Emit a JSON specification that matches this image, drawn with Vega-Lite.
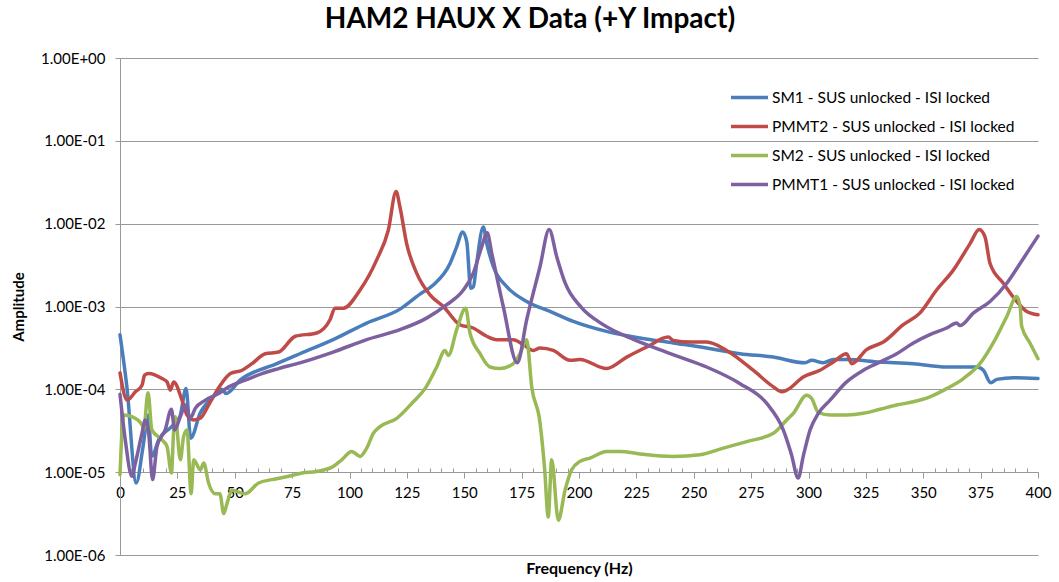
{
  "$schema": "https://vega.github.io/schema/vega-lite/v6.json",
  "autosize": {"type": "none"},
  "padding": {"left": 120, "top": 58, "right": 21, "bottom": 27},
  "width": 918,
  "height": 497,
  "background": "white",
  "title": {"text": "HAM2 HAUX X Data (+Y Impact)", "font": "Lato", "fontSize": 28, "fontWeight": "bold", "color": "#000", "anchor": "middle", "dx": -49, "offset": 17},
  "data": {"values": [
    {"s":"SM1 - SUS unlocked - ISI locked","f":0,"a":4.57e-4},
    {"s":"SM1 - SUS unlocked - ISI locked","f":3,"a":1.07e-4},
    {"s":"SM1 - SUS unlocked - ISI locked","f":7.1,"a":7.41e-6},
    {"s":"SM1 - SUS unlocked - ISI locked","f":10,"a":2.0e-5},
    {"s":"SM1 - SUS unlocked - ISI locked","f":12.3,"a":4.9e-5},
    {"s":"SM1 - SUS unlocked - ISI locked","f":13.8,"a":1.55e-5},
    {"s":"SM1 - SUS unlocked - ISI locked","f":17,"a":2.51e-5},
    {"s":"SM1 - SUS unlocked - ISI locked","f":22.5,"a":3.55e-5},
    {"s":"SM1 - SUS unlocked - ISI locked","f":26.1,"a":4.68e-5},
    {"s":"SM1 - SUS unlocked - ISI locked","f":28.8,"a":1.02e-4},
    {"s":"SM1 - SUS unlocked - ISI locked","f":30.8,"a":2.57e-5},
    {"s":"SM1 - SUS unlocked - ISI locked","f":34.9,"a":5.13e-5},
    {"s":"SM1 - SUS unlocked - ISI locked","f":40.7,"a":8.13e-5},
    {"s":"SM1 - SUS unlocked - ISI locked","f":44.3,"a":1.0e-4},
    {"s":"SM1 - SUS unlocked - ISI locked","f":46.2,"a":8.91e-5},
    {"s":"SM1 - SUS unlocked - ISI locked","f":52.3,"a":1.29e-4},
    {"s":"SM1 - SUS unlocked - ISI locked","f":68.3,"a":2.04e-4},
    {"s":"SM1 - SUS unlocked - ISI locked","f":78.4,"a":2.69e-4},
    {"s":"SM1 - SUS unlocked - ISI locked","f":92.9,"a":3.98e-4},
    {"s":"SM1 - SUS unlocked - ISI locked","f":107.5,"a":6.31e-4},
    {"s":"SM1 - SUS unlocked - ISI locked","f":122,"a":9.3e-4},
    {"s":"SM1 - SUS unlocked - ISI locked","f":130.7,"a":1.41e-3},
    {"s":"SM1 - SUS unlocked - ISI locked","f":136.5,"a":1.82e-3},
    {"s":"SM1 - SUS unlocked - ISI locked","f":143.8,"a":3.31e-3},
    {"s":"SM1 - SUS unlocked - ISI locked","f":146.7,"a":5.25e-3},
    {"s":"SM1 - SUS unlocked - ISI locked","f":149.3,"a":7.94e-3},
    {"s":"SM1 - SUS unlocked - ISI locked","f":151.1,"a":6.03e-3},
    {"s":"SM1 - SUS unlocked - ISI locked","f":152.8,"a":1.66e-3},
    {"s":"SM1 - SUS unlocked - ISI locked","f":154,"a":1.74e-3},
    {"s":"SM1 - SUS unlocked - ISI locked","f":155.4,"a":3.31e-3},
    {"s":"SM1 - SUS unlocked - ISI locked","f":158.3,"a":9.12e-3},
    {"s":"SM1 - SUS unlocked - ISI locked","f":159.8,"a":5.75e-3},
    {"s":"SM1 - SUS unlocked - ISI locked","f":162.7,"a":3.02e-3},
    {"s":"SM1 - SUS unlocked - ISI locked","f":168.5,"a":1.74e-3},
    {"s":"SM1 - SUS unlocked - ISI locked","f":177.2,"a":1.15e-3},
    {"s":"SM1 - SUS unlocked - ISI locked","f":187.4,"a":8.71e-4},
    {"s":"SM1 - SUS unlocked - ISI locked","f":197.5,"a":6.61e-4},
    {"s":"SM1 - SUS unlocked - ISI locked","f":212,"a":5.01e-4},
    {"s":"SM1 - SUS unlocked - ISI locked","f":226.6,"a":4.17e-4},
    {"s":"SM1 - SUS unlocked - ISI locked","f":241.1,"a":3.63e-4},
    {"s":"SM1 - SUS unlocked - ISI locked","f":255.6,"a":3.16e-4},
    {"s":"SM1 - SUS unlocked - ISI locked","f":270.2,"a":2.69e-4},
    {"s":"SM1 - SUS unlocked - ISI locked","f":284.7,"a":2.45e-4},
    {"s":"SM1 - SUS unlocked - ISI locked","f":298.5,"a":2.09e-4},
    {"s":"SM1 - SUS unlocked - ISI locked","f":301.4,"a":2.24e-4},
    {"s":"SM1 - SUS unlocked - ISI locked","f":306.5,"a":2.09e-4},
    {"s":"SM1 - SUS unlocked - ISI locked","f":310.8,"a":2.29e-4},
    {"s":"SM1 - SUS unlocked - ISI locked","f":316.6,"a":2.29e-4},
    {"s":"SM1 - SUS unlocked - ISI locked","f":331.2,"a":2.14e-4},
    {"s":"SM1 - SUS unlocked - ISI locked","f":345.7,"a":2.04e-4},
    {"s":"SM1 - SUS unlocked - ISI locked","f":360.2,"a":1.86e-4},
    {"s":"SM1 - SUS unlocked - ISI locked","f":373.3,"a":1.86e-4},
    {"s":"SM1 - SUS unlocked - ISI locked","f":376.2,"a":1.70e-4},
    {"s":"SM1 - SUS unlocked - ISI locked","f":379.4,"a":1.20e-4},
    {"s":"SM1 - SUS unlocked - ISI locked","f":382,"a":1.32e-4},
    {"s":"SM1 - SUS unlocked - ISI locked","f":389.3,"a":1.38e-4},
    {"s":"SM1 - SUS unlocked - ISI locked","f":400,"a":1.35e-4},

    {"s":"PMMT2 - SUS unlocked - ISI locked","f":0,"a":1.58e-4},
    {"s":"PMMT2 - SUS unlocked - ISI locked","f":3.1,"a":7.41e-5},
    {"s":"PMMT2 - SUS unlocked - ISI locked","f":6.7,"a":9.33e-5},
    {"s":"PMMT2 - SUS unlocked - ISI locked","f":9.6,"a":1.12e-4},
    {"s":"PMMT2 - SUS unlocked - ISI locked","f":10.7,"a":1.48e-4},
    {"s":"PMMT2 - SUS unlocked - ISI locked","f":12.5,"a":1.55e-4},
    {"s":"PMMT2 - SUS unlocked - ISI locked","f":18.3,"a":1.35e-4},
    {"s":"PMMT2 - SUS unlocked - ISI locked","f":20.5,"a":1.23e-4},
    {"s":"PMMT2 - SUS unlocked - ISI locked","f":21.9,"a":9.77e-5},
    {"s":"PMMT2 - SUS unlocked - ISI locked","f":23.4,"a":1.23e-4},
    {"s":"PMMT2 - SUS unlocked - ISI locked","f":27,"a":7.41e-5},
    {"s":"PMMT2 - SUS unlocked - ISI locked","f":29.2,"a":4.9e-5},
    {"s":"PMMT2 - SUS unlocked - ISI locked","f":32.1,"a":4.27e-5},
    {"s":"PMMT2 - SUS unlocked - ISI locked","f":35,"a":4.47e-5},
    {"s":"PMMT2 - SUS unlocked - ISI locked","f":38.6,"a":6.46e-5},
    {"s":"PMMT2 - SUS unlocked - ISI locked","f":43.7,"a":1.12e-4},
    {"s":"PMMT2 - SUS unlocked - ISI locked","f":48.1,"a":1.55e-4},
    {"s":"PMMT2 - SUS unlocked - ISI locked","f":53.2,"a":1.70e-4},
    {"s":"PMMT2 - SUS unlocked - ISI locked","f":57.5,"a":2.04e-4},
    {"s":"PMMT2 - SUS unlocked - ISI locked","f":63.3,"a":2.69e-4},
    {"s":"PMMT2 - SUS unlocked - ISI locked","f":69.1,"a":2.82e-4},
    {"s":"PMMT2 - SUS unlocked - ISI locked","f":76.4,"a":4.37e-4},
    {"s":"PMMT2 - SUS unlocked - ISI locked","f":85.7,"a":4.79e-4},
    {"s":"PMMT2 - SUS unlocked - ISI locked","f":91.5,"a":6.92e-4},
    {"s":"PMMT2 - SUS unlocked - ISI locked","f":93.7,"a":9.55e-4},
    {"s":"PMMT2 - SUS unlocked - ISI locked","f":97.3,"a":9.55e-4},
    {"s":"PMMT2 - SUS unlocked - ISI locked","f":104.6,"a":1.58e-3},
    {"s":"PMMT2 - SUS unlocked - ISI locked","f":111.8,"a":3.63e-3},
    {"s":"PMMT2 - SUS unlocked - ISI locked","f":116.9,"a":8.32e-3},
    {"s":"PMMT2 - SUS unlocked - ISI locked","f":120.3,"a":2.45e-2},
    {"s":"PMMT2 - SUS unlocked - ISI locked","f":122,"a":1.58e-2},
    {"s":"PMMT2 - SUS unlocked - ISI locked","f":124.9,"a":5.75e-3},
    {"s":"PMMT2 - SUS unlocked - ISI locked","f":129.3,"a":2.51e-3},
    {"s":"PMMT2 - SUS unlocked - ISI locked","f":135.1,"a":1.38e-3},
    {"s":"PMMT2 - SUS unlocked - ISI locked","f":140.9,"a":1.0e-3},
    {"s":"PMMT2 - SUS unlocked - ISI locked","f":148.1,"a":6.03e-4},
    {"s":"PMMT2 - SUS unlocked - ISI locked","f":153.9,"a":5.5e-4},
    {"s":"PMMT2 - SUS unlocked - ISI locked","f":159.8,"a":4.37e-4},
    {"s":"PMMT2 - SUS unlocked - ISI locked","f":164.1,"a":3.98e-4},
    {"s":"PMMT2 - SUS unlocked - ISI locked","f":171.4,"a":3.98e-4},
    {"s":"PMMT2 - SUS unlocked - ISI locked","f":175.7,"a":3.47e-4},
    {"s":"PMMT2 - SUS unlocked - ISI locked","f":180.1,"a":2.95e-4},
    {"s":"PMMT2 - SUS unlocked - ISI locked","f":183,"a":3.16e-4},
    {"s":"PMMT2 - SUS unlocked - ISI locked","f":188.8,"a":2.95e-4},
    {"s":"PMMT2 - SUS unlocked - ISI locked","f":196.1,"a":2.24e-4},
    {"s":"PMMT2 - SUS unlocked - ISI locked","f":200.4,"a":2.29e-4},
    {"s":"PMMT2 - SUS unlocked - ISI locked","f":212,"a":1.78e-4},
    {"s":"PMMT2 - SUS unlocked - ISI locked","f":220.8,"a":2.45e-4},
    {"s":"PMMT2 - SUS unlocked - ISI locked","f":229.5,"a":3.24e-4},
    {"s":"PMMT2 - SUS unlocked - ISI locked","f":238.9,"a":4.27e-4},
    {"s":"PMMT2 - SUS unlocked - ISI locked","f":241.1,"a":3.89e-4},
    {"s":"PMMT2 - SUS unlocked - ISI locked","f":248.4,"a":3.72e-4},
    {"s":"PMMT2 - SUS unlocked - ISI locked","f":255.6,"a":3.72e-4},
    {"s":"PMMT2 - SUS unlocked - ISI locked","f":264.3,"a":2.95e-4},
    {"s":"PMMT2 - SUS unlocked - ISI locked","f":275.9,"a":1.70e-4},
    {"s":"PMMT2 - SUS unlocked - ISI locked","f":284.7,"a":1.07e-4},
    {"s":"PMMT2 - SUS unlocked - ISI locked","f":288.3,"a":9.33e-5},
    {"s":"PMMT2 - SUS unlocked - ISI locked","f":290.5,"a":9.77e-5},
    {"s":"PMMT2 - SUS unlocked - ISI locked","f":297.7,"a":1.41e-4},
    {"s":"PMMT2 - SUS unlocked - ISI locked","f":305,"a":1.70e-4},
    {"s":"PMMT2 - SUS unlocked - ISI locked","f":310.8,"a":2.14e-4},
    {"s":"PMMT2 - SUS unlocked - ISI locked","f":316.6,"a":2.69e-4},
    {"s":"PMMT2 - SUS unlocked - ISI locked","f":318.8,"a":2.04e-4},
    {"s":"PMMT2 - SUS unlocked - ISI locked","f":325.3,"a":3.02e-4},
    {"s":"PMMT2 - SUS unlocked - ISI locked","f":332.6,"a":3.72e-4},
    {"s":"PMMT2 - SUS unlocked - ISI locked","f":341.3,"a":6.03e-4},
    {"s":"PMMT2 - SUS unlocked - ISI locked","f":348.5,"a":8.32e-4},
    {"s":"PMMT2 - SUS unlocked - ISI locked","f":355.8,"a":1.58e-3},
    {"s":"PMMT2 - SUS unlocked - ISI locked","f":363.1,"a":2.75e-3},
    {"s":"PMMT2 - SUS unlocked - ISI locked","f":370.4,"a":5.75e-3},
    {"s":"PMMT2 - SUS unlocked - ISI locked","f":374.4,"a":8.51e-3},
    {"s":"PMMT2 - SUS unlocked - ISI locked","f":376.9,"a":6.92e-3},
    {"s":"PMMT2 - SUS unlocked - ISI locked","f":379.1,"a":3.31e-3},
    {"s":"PMMT2 - SUS unlocked - ISI locked","f":384.9,"a":1.91e-3},
    {"s":"PMMT2 - SUS unlocked - ISI locked","f":390.7,"a":1.15e-3},
    {"s":"PMMT2 - SUS unlocked - ISI locked","f":395.1,"a":8.71e-4},
    {"s":"PMMT2 - SUS unlocked - ISI locked","f":400,"a":7.94e-4},

    {"s":"SM2 - SUS unlocked - ISI locked","f":0,"a":9.33e-6},
    {"s":"SM2 - SUS unlocked - ISI locked","f":1.6,"a":4.9e-5},
    {"s":"SM2 - SUS unlocked - ISI locked","f":5.2,"a":4.68e-5},
    {"s":"SM2 - SUS unlocked - ISI locked","f":9.6,"a":3.72e-5},
    {"s":"SM2 - SUS unlocked - ISI locked","f":10.3,"a":3.24e-5},
    {"s":"SM2 - SUS unlocked - ISI locked","f":12.2,"a":9.12e-5},
    {"s":"SM2 - SUS unlocked - ISI locked","f":13.9,"a":3.24e-5},
    {"s":"SM2 - SUS unlocked - ISI locked","f":18.3,"a":2.45e-5},
    {"s":"SM2 - SUS unlocked - ISI locked","f":20.5,"a":2.04e-5},
    {"s":"SM2 - SUS unlocked - ISI locked","f":22.4,"a":9.77e-6},
    {"s":"SM2 - SUS unlocked - ISI locked","f":23.4,"a":3.24e-5},
    {"s":"SM2 - SUS unlocked - ISI locked","f":24.1,"a":4.68e-5},
    {"s":"SM2 - SUS unlocked - ISI locked","f":26.3,"a":1.41e-5},
    {"s":"SM2 - SUS unlocked - ISI locked","f":27.7,"a":2.69e-5},
    {"s":"SM2 - SUS unlocked - ISI locked","f":29.2,"a":3.24e-5},
    {"s":"SM2 - SUS unlocked - ISI locked","f":31,"a":5.5e-6},
    {"s":"SM2 - SUS unlocked - ISI locked","f":32.1,"a":1.41e-5},
    {"s":"SM2 - SUS unlocked - ISI locked","f":35,"a":1.07e-5},
    {"s":"SM2 - SUS unlocked - ISI locked","f":36.5,"a":1.29e-5},
    {"s":"SM2 - SUS unlocked - ISI locked","f":38.6,"a":7.41e-6},
    {"s":"SM2 - SUS unlocked - ISI locked","f":41.5,"a":5.5e-6},
    {"s":"SM2 - SUS unlocked - ISI locked","f":43.5,"a":5.5e-6},
    {"s":"SM2 - SUS unlocked - ISI locked","f":45.2,"a":3.16e-6},
    {"s":"SM2 - SUS unlocked - ISI locked","f":46.6,"a":4.17e-6},
    {"s":"SM2 - SUS unlocked - ISI locked","f":48.8,"a":6.03e-6},
    {"s":"SM2 - SUS unlocked - ISI locked","f":54.6,"a":5.5e-6},
    {"s":"SM2 - SUS unlocked - ISI locked","f":60.4,"a":7.41e-6},
    {"s":"SM2 - SUS unlocked - ISI locked","f":66.2,"a":8.13e-6},
    {"s":"SM2 - SUS unlocked - ISI locked","f":73.5,"a":8.91e-6},
    {"s":"SM2 - SUS unlocked - ISI locked","f":79.3,"a":9.77e-6},
    {"s":"SM2 - SUS unlocked - ISI locked","f":85.7,"a":1.02e-5},
    {"s":"SM2 - SUS unlocked - ISI locked","f":92.9,"a":1.17e-5},
    {"s":"SM2 - SUS unlocked - ISI locked","f":96.6,"a":1.41e-5},
    {"s":"SM2 - SUS unlocked - ISI locked","f":101,"a":1.78e-5},
    {"s":"SM2 - SUS unlocked - ISI locked","f":104.6,"a":1.55e-5},
    {"s":"SM2 - SUS unlocked - ISI locked","f":107.5,"a":1.95e-5},
    {"s":"SM2 - SUS unlocked - ISI locked","f":110.4,"a":2.95e-5},
    {"s":"SM2 - SUS unlocked - ISI locked","f":113.3,"a":3.55e-5},
    {"s":"SM2 - SUS unlocked - ISI locked","f":120.6,"a":4.47e-5},
    {"s":"SM2 - SUS unlocked - ISI locked","f":127.8,"a":7.08e-5},
    {"s":"SM2 - SUS unlocked - ISI locked","f":132.9,"a":1.02e-4},
    {"s":"SM2 - SUS unlocked - ISI locked","f":138,"a":1.86e-4},
    {"s":"SM2 - SUS unlocked - ISI locked","f":141.6,"a":2.95e-4},
    {"s":"SM2 - SUS unlocked - ISI locked","f":143.1,"a":2.57e-4},
    {"s":"SM2 - SUS unlocked - ISI locked","f":146.7,"a":5.25e-4},
    {"s":"SM2 - SUS unlocked - ISI locked","f":150.6,"a":9.55e-4},
    {"s":"SM2 - SUS unlocked - ISI locked","f":152.5,"a":4.79e-4},
    {"s":"SM2 - SUS unlocked - ISI locked","f":156.9,"a":2.69e-4},
    {"s":"SM2 - SUS unlocked - ISI locked","f":161.2,"a":1.86e-4},
    {"s":"SM2 - SUS unlocked - ISI locked","f":165.6,"a":1.78e-4},
    {"s":"SM2 - SUS unlocked - ISI locked","f":171.4,"a":2.04e-4},
    {"s":"SM2 - SUS unlocked - ISI locked","f":174.3,"a":2.69e-4},
    {"s":"SM2 - SUS unlocked - ISI locked","f":177.2,"a":3.98e-4},
    {"s":"SM2 - SUS unlocked - ISI locked","f":179.4,"a":1.07e-4},
    {"s":"SM2 - SUS unlocked - ISI locked","f":183,"a":3.98e-5},
    {"s":"SM2 - SUS unlocked - ISI locked","f":185,"a":1.12e-5},
    {"s":"SM2 - SUS unlocked - ISI locked","f":186.6,"a":2.88e-6},
    {"s":"SM2 - SUS unlocked - ISI locked","f":188.1,"a":1.41e-5},
    {"s":"SM2 - SUS unlocked - ISI locked","f":191,"a":2.63e-6},
    {"s":"SM2 - SUS unlocked - ISI locked","f":193.9,"a":6.03e-6},
    {"s":"SM2 - SUS unlocked - ISI locked","f":196.8,"a":1.07e-5},
    {"s":"SM2 - SUS unlocked - ISI locked","f":200.4,"a":1.35e-5},
    {"s":"SM2 - SUS unlocked - ISI locked","f":204.8,"a":1.48e-5},
    {"s":"SM2 - SUS unlocked - ISI locked","f":212,"a":1.78e-5},
    {"s":"SM2 - SUS unlocked - ISI locked","f":217.9,"a":1.78e-5},
    {"s":"SM2 - SUS unlocked - ISI locked","f":226.6,"a":1.66e-5},
    {"s":"SM2 - SUS unlocked - ISI locked","f":241.1,"a":1.55e-5},
    {"s":"SM2 - SUS unlocked - ISI locked","f":252.7,"a":1.62e-5},
    {"s":"SM2 - SUS unlocked - ISI locked","f":262.9,"a":1.95e-5},
    {"s":"SM2 - SUS unlocked - ISI locked","f":273.1,"a":2.34e-5},
    {"s":"SM2 - SUS unlocked - ISI locked","f":284.7,"a":2.95e-5},
    {"s":"SM2 - SUS unlocked - ISI locked","f":290.5,"a":4.27e-5},
    {"s":"SM2 - SUS unlocked - ISI locked","f":293.4,"a":5.13e-5},
    {"s":"SM2 - SUS unlocked - ISI locked","f":299.2,"a":8.51e-5},
    {"s":"SM2 - SUS unlocked - ISI locked","f":301.4,"a":7.76e-5},
    {"s":"SM2 - SUS unlocked - ISI locked","f":304.3,"a":5.25e-5},
    {"s":"SM2 - SUS unlocked - ISI locked","f":309.4,"a":4.9e-5},
    {"s":"SM2 - SUS unlocked - ISI locked","f":316.6,"a":4.9e-5},
    {"s":"SM2 - SUS unlocked - ISI locked","f":323.9,"a":5.13e-5},
    {"s":"SM2 - SUS unlocked - ISI locked","f":331.2,"a":5.75e-5},
    {"s":"SM2 - SUS unlocked - ISI locked","f":338.4,"a":6.46e-5},
    {"s":"SM2 - SUS unlocked - ISI locked","f":345.7,"a":7.08e-5},
    {"s":"SM2 - SUS unlocked - ISI locked","f":352.9,"a":8.13e-5},
    {"s":"SM2 - SUS unlocked - ISI locked","f":360.2,"a":1.02e-4},
    {"s":"SM2 - SUS unlocked - ISI locked","f":367.5,"a":1.35e-4},
    {"s":"SM2 - SUS unlocked - ISI locked","f":374.7,"a":2.04e-4},
    {"s":"SM2 - SUS unlocked - ISI locked","f":380.5,"a":3.63e-4},
    {"s":"SM2 - SUS unlocked - ISI locked","f":386.4,"a":7.59e-4},
    {"s":"SM2 - SUS unlocked - ISI locked","f":390.7,"a":1.32e-3},
    {"s":"SM2 - SUS unlocked - ISI locked","f":392.2,"a":1.0e-3},
    {"s":"SM2 - SUS unlocked - ISI locked","f":392.9,"a":5.75e-4},
    {"s":"SM2 - SUS unlocked - ISI locked","f":396.5,"a":3.63e-4},
    {"s":"SM2 - SUS unlocked - ISI locked","f":400,"a":2.34e-4},

    {"s":"PMMT1 - SUS unlocked - ISI locked","f":0,"a":8.71e-5},
    {"s":"PMMT1 - SUS unlocked - ISI locked","f":2.3,"a":2.45e-5},
    {"s":"PMMT1 - SUS unlocked - ISI locked","f":5.2,"a":8.91e-6},
    {"s":"PMMT1 - SUS unlocked - ISI locked","f":6.7,"a":1.29e-5},
    {"s":"PMMT1 - SUS unlocked - ISI locked","f":9.6,"a":2.95e-5},
    {"s":"PMMT1 - SUS unlocked - ISI locked","f":11,"a":4.27e-5},
    {"s":"PMMT1 - SUS unlocked - ISI locked","f":12.5,"a":2.95e-5},
    {"s":"PMMT1 - SUS unlocked - ISI locked","f":14.2,"a":8.13e-6},
    {"s":"PMMT1 - SUS unlocked - ISI locked","f":16.1,"a":2.04e-5},
    {"s":"PMMT1 - SUS unlocked - ISI locked","f":19.7,"a":3.24e-5},
    {"s":"PMMT1 - SUS unlocked - ISI locked","f":22.4,"a":5.75e-5},
    {"s":"PMMT1 - SUS unlocked - ISI locked","f":23.8,"a":3.24e-5},
    {"s":"PMMT1 - SUS unlocked - ISI locked","f":26.3,"a":4.68e-5},
    {"s":"PMMT1 - SUS unlocked - ISI locked","f":28.5,"a":6.46e-5},
    {"s":"PMMT1 - SUS unlocked - ISI locked","f":30.6,"a":4.47e-5},
    {"s":"PMMT1 - SUS unlocked - ISI locked","f":32.8,"a":5.89e-5},
    {"s":"PMMT1 - SUS unlocked - ISI locked","f":37.2,"a":7.41e-5},
    {"s":"PMMT1 - SUS unlocked - ISI locked","f":43,"a":8.91e-5},
    {"s":"PMMT1 - SUS unlocked - ISI locked","f":47.4,"a":1.07e-4},
    {"s":"PMMT1 - SUS unlocked - ISI locked","f":54.6,"a":1.29e-4},
    {"s":"PMMT1 - SUS unlocked - ISI locked","f":61.9,"a":1.55e-4},
    {"s":"PMMT1 - SUS unlocked - ISI locked","f":69.1,"a":1.78e-4},
    {"s":"PMMT1 - SUS unlocked - ISI locked","f":78.4,"a":2.09e-4},
    {"s":"PMMT1 - SUS unlocked - ISI locked","f":92.9,"a":2.82e-4},
    {"s":"PMMT1 - SUS unlocked - ISI locked","f":107.5,"a":3.98e-4},
    {"s":"PMMT1 - SUS unlocked - ISI locked","f":122,"a":5.25e-4},
    {"s":"PMMT1 - SUS unlocked - ISI locked","f":133.6,"a":7.24e-4},
    {"s":"PMMT1 - SUS unlocked - ISI locked","f":142.4,"a":1.05e-3},
    {"s":"PMMT1 - SUS unlocked - ISI locked","f":149.6,"a":1.58e-3},
    {"s":"PMMT1 - SUS unlocked - ISI locked","f":153.9,"a":2.51e-3},
    {"s":"PMMT1 - SUS unlocked - ISI locked","f":157.6,"a":5.25e-3},
    {"s":"PMMT1 - SUS unlocked - ISI locked","f":160,"a":7.76e-3},
    {"s":"PMMT1 - SUS unlocked - ISI locked","f":162,"a":4.37e-3},
    {"s":"PMMT1 - SUS unlocked - ISI locked","f":167,"a":1.0e-3},
    {"s":"PMMT1 - SUS unlocked - ISI locked","f":173.1,"a":2.09e-4},
    {"s":"PMMT1 - SUS unlocked - ISI locked","f":177.2,"a":6.92e-4},
    {"s":"PMMT1 - SUS unlocked - ISI locked","f":183,"a":3.02e-3},
    {"s":"PMMT1 - SUS unlocked - ISI locked","f":187,"a":8.51e-3},
    {"s":"PMMT1 - SUS unlocked - ISI locked","f":190.3,"a":3.98e-3},
    {"s":"PMMT1 - SUS unlocked - ISI locked","f":194,"a":1.91e-3},
    {"s":"PMMT1 - SUS unlocked - ISI locked","f":201,"a":9.77e-4},
    {"s":"PMMT1 - SUS unlocked - ISI locked","f":210,"a":6.17e-4},
    {"s":"PMMT1 - SUS unlocked - ISI locked","f":224,"a":3.98e-4},
    {"s":"PMMT1 - SUS unlocked - ISI locked","f":238,"a":2.82e-4},
    {"s":"PMMT1 - SUS unlocked - ISI locked","f":244,"a":2.45e-4},
    {"s":"PMMT1 - SUS unlocked - ISI locked","f":255.6,"a":1.86e-4},
    {"s":"PMMT1 - SUS unlocked - ISI locked","f":270.2,"a":1.17e-4},
    {"s":"PMMT1 - SUS unlocked - ISI locked","f":281.8,"a":6.76e-5},
    {"s":"PMMT1 - SUS unlocked - ISI locked","f":289,"a":3.24e-5},
    {"s":"PMMT1 - SUS unlocked - ISI locked","f":292.5,"a":1.66e-5},
    {"s":"PMMT1 - SUS unlocked - ISI locked","f":295.5,"a":8.51e-6},
    {"s":"PMMT1 - SUS unlocked - ISI locked","f":297.7,"a":1.55e-5},
    {"s":"PMMT1 - SUS unlocked - ISI locked","f":300.7,"a":3.24e-5},
    {"s":"PMMT1 - SUS unlocked - ISI locked","f":304.3,"a":5.13e-5},
    {"s":"PMMT1 - SUS unlocked - ISI locked","f":309.4,"a":7.41e-5},
    {"s":"PMMT1 - SUS unlocked - ISI locked","f":316.6,"a":1.23e-4},
    {"s":"PMMT1 - SUS unlocked - ISI locked","f":323.9,"a":1.70e-4},
    {"s":"PMMT1 - SUS unlocked - ISI locked","f":331.2,"a":2.14e-4},
    {"s":"PMMT1 - SUS unlocked - ISI locked","f":338.4,"a":2.69e-4},
    {"s":"PMMT1 - SUS unlocked - ISI locked","f":345.7,"a":3.63e-4},
    {"s":"PMMT1 - SUS unlocked - ISI locked","f":352.9,"a":4.57e-4},
    {"s":"PMMT1 - SUS unlocked - ISI locked","f":360.2,"a":5.5e-4},
    {"s":"PMMT1 - SUS unlocked - ISI locked","f":364.6,"a":6.31e-4},
    {"s":"PMMT1 - SUS unlocked - ISI locked","f":366,"a":5.89e-4},
    {"s":"PMMT1 - SUS unlocked - ISI locked","f":371.8,"a":8.32e-4},
    {"s":"PMMT1 - SUS unlocked - ISI locked","f":379.1,"a":1.15e-3},
    {"s":"PMMT1 - SUS unlocked - ISI locked","f":386.4,"a":1.91e-3},
    {"s":"PMMT1 - SUS unlocked - ISI locked","f":392.2,"a":3.31e-3},
    {"s":"PMMT1 - SUS unlocked - ISI locked","f":400,"a":7.08e-3}
  ]},
  "mark": {"type": "line", "strokeWidth": 3.5, "interpolate": "monotone", "strokeJoin": "round", "strokeCap": "round"},
  "encoding": {
    "x": {
      "field": "f", "type": "quantitative",
      "scale": {"domain": [0, 400], "nice": false, "zero": false},
      "axis": {
        "title": "Frequency (Hz)",
        "titleFont": "Lato", "titleFontSize": 16, "titleFontWeight": "bold", "titleColor": "#000",
        "titleY": 96, "titleBaseline": "middle",
        "offset": -83,
        "values": [0,5,10,15,20,25,30,35,40,45,50,55,60,65,70,75,80,85,90,95,100,105,110,115,120,125,130,135,140,145,150,155,160,165,170,175,180,185,190,195,200,205,210,215,220,225,230,235,240,245,250,255,260,265,270,275,280,285,290,295,300,305,310,315,320,325,330,335,340,345,350,355,360,365,370,375,380,385,390,395,400],
        "labelExpr": "datum.value % 25 === 0 ? datum.label : ''",
        "labelOverlap": false, "labelFlush": false,
        "labelFont": "Lato", "labelFontSize": 15, "labelColor": "#000", "labelPadding": 7,
        "tickSize": {"condition": {"test": "datum.value % 25 === 0", "value": 6}, "value": -4},
        "tickColor": "#999999", "domainColor": "#999999", "grid": false
      }
    },
    "y": {
      "field": "a", "type": "quantitative",
      "scale": {"type": "log", "domain": [1e-6, 1], "nice": false},
      "axis": {
        "title": "Amplitude",
        "titleFont": "Lato", "titleFontSize": 15, "titleFontWeight": "bold", "titleColor": "#000",
        "titleX": -102, "titleY": 248.5, "titleAngle": -90, "titleBaseline": "middle", "titleAlign": "center",
        "values": [1e-6, 1e-5, 1e-4, 1e-3, 1e-2, 1e-1, 1],
        "labelExpr": "'1.00E' + (datum.value >= 1 ? '+00' : '-0' + round(-log(datum.value) / LN10))",
        "labelFont": "Lato", "labelFontSize": 15, "labelColor": "#000", "labelPadding": 10,
        "tickSize": 5, "tickColor": "#999999", "domainColor": "#999999",
        "grid": true, "gridColor": "#999999", "gridWidth": 1
      }
    },
    "color": {
      "field": "s", "type": "nominal",
      "scale": {
        "domain": ["SM1 - SUS unlocked - ISI locked", "PMMT2 - SUS unlocked - ISI locked", "SM2 - SUS unlocked - ISI locked", "PMMT1 - SUS unlocked - ISI locked"],
        "range": ["#4A7EBB", "#BE4B48", "#98B954", "#7D60A0"]
      },
      "legend": {
        "title": null, "orient": "none", "legendX": 609, "legendY": 19,
        "symbolType": "stroke", "symbolSize": 1369, "symbolStrokeWidth": 3.5,
        "labelFont": "Lato", "labelFontSize": 15.5, "labelColor": "#000", "labelOffset": 2,
        "rowPadding": 0, "padding": 0, "labelLimit": 400
      }
    }
  },
  "config": {"view": {"stroke": null}}
}
